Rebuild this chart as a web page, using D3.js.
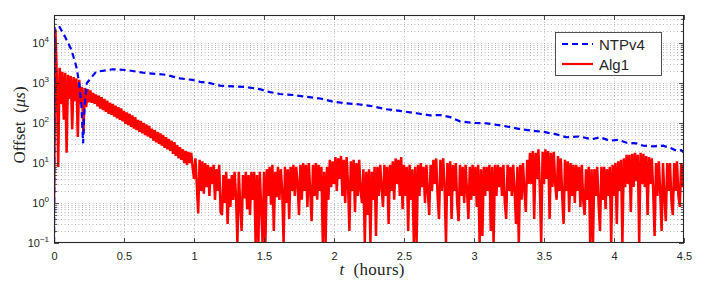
<!DOCTYPE html>
<html><head><meta charset="utf-8">
<script src="https://cdn.jsdelivr.net/npm/d3@7/dist/d3.min.js"></script>
<style>
body{margin:0;background:#fff;}
svg text{font-family:"Liberation Sans",Arial,Helvetica,sans-serif;fill:#262626;}
</style>
</head><body>
<svg id="chart" width="706" height="281"></svg>
<script>
// ---------- data ----------
const seriesNames = ["NTPv4", "Alg1"];
const xTickValues = [0, 0.5, 1, 1.5, 2, 2.5, 3, 3.5, 4, 4.5];
const xTickLabels = ["0", "0.5", "1", "1.5", "2", "2.5", "3", "3.5", "4", "4.5"];
const yTickExponents = [-1, 0, 1, 2, 3, 4];

// NTPv4 offset (µs) vs time (hours)
const ntpTimes = [
  0, 0.004, 0.04, 0.08, 0.125, 0.16, 0.178, 0.195, 0.208, 0.218,
  0.235, 0.3, 0.42, 0.52, 0.64, 0.8, 0.9, 0.99, 1.043, 1.114,
  1.186, 1.28, 1.376, 1.47, 1.543, 1.614, 1.71, 1.805, 1.9, 1.995,
  2.09, 2.186, 2.28, 2.376, 2.47, 2.59, 2.686, 2.757, 2.83, 2.9,
  2.995, 3.09, 3.21, 3.33, 3.42, 3.495, 3.59, 3.66, 3.757, 3.84,
  3.9, 3.97, 4.03, 4.09, 4.16, 4.21, 4.28, 4.35, 4.4, 4.45,
  4.48, 4.5
];
const ntpValues = [
  0.01, 25000, 25000, 14000, 6700, 2500, 1100, 300, 31, 250,
  1000, 1900, 2200, 2100, 1800, 1600, 1300, 1190, 1070, 990,
  860, 820, 790, 700, 590, 530, 500, 450, 410, 340,
  310, 290, 260, 220, 200, 175, 155, 158, 140, 110,
  100, 98, 85, 70, 64, 60, 52, 44, 46, 39,
  44, 36, 38, 32, 31, 27, 26, 27, 24, 20,
  21, 18
];

// Alg1 offset (µs), sampled every 0.01 h from t = 0 to 4.5 h
const alg1Step = 0.01;
const alg1Values = [
  1, 22000, 1500, 8, 2400, 300, 1900, 120, 1800, 18,
  1600, 400, 1500, 70, 1400, 350, 1300, 45, 1200, 300,
  800, 56, 750, 250, 700, 330, 650, 320, 560, 300,
  520, 260, 480, 230, 440, 210, 400, 190, 360, 170,
  320, 160, 300, 145, 270, 130, 250, 120, 230, 110,
  200, 95, 185, 88, 170, 80, 155, 72, 140, 66,
  120, 60, 112, 55, 100, 50, 92, 46, 84, 42,
  72, 36, 66, 33, 60, 30, 55, 27, 50, 24,
  44, 22, 40, 20, 36, 17, 33, 15, 28, 13,
  25, 12, 22, 10, 20, 9, 19, 10, 18, 8,
  4, 13, 3, 0.55, 12, 2, 11, 1.7, 10, 2.5,
  9, 1.5, 8, 3, 9, 1.2, 7, 2, 9, 0.6,
  0.5, 5, 1, 6, 0.3, 4, 0.8, 5, 1.2, 6,
  1.5, 0.1, 6, 0.9, 0.2, 5, 1.3, 6, 0.7, 5,
  0.5, 6, 1.2, 6, 0.1, 5, 0.1, 6, 0.8, 0.1,
  6, 0.1, 7, 1.5, 8, 0.9, 9, 0.2, 6, 1.4,
  8, 1.2, 7, 2, 0.1, 8, 1, 7, 0.4, 8,
  2, 9, 1.5, 8, 3, 0.5, 9, 1.2, 10, 2,
  9, 0.8, 10, 2, 0.35, 9, 1.5, 10, 1.2, 9,
  2, 8, 0.1, 6, 0.1, 8, 1.2, 12, 2.5, 11,
  3, 14, 2, 13, 4, 15, 1.5, 12, 1, 14,
  3, 0.2, 11, 2, 12, 0.6, 10, 1.5, 12, 2,
  1, 7, 0.1, 6, 0.5, 7, 0.1, 6, 1.2, 8,
  0.15, 8, 1.5, 9, 2.5, 0.8, 9, 1.5, 8, 0.3,
  9, 2, 11, 1.2, 13, 3, 12, 1.5, 14, 0.7,
  9, 1.5, 8, 0.2, 9, 1.2, 7, 0.1, 8, 0.1,
  9, 1.5, 10, 2.5, 8, 1, 9, 2, 0.5, 9,
  2, 12, 3, 13, 1.5, 0.4, 12, 2, 13, 2.5,
  0.1, 10, 1.5, 11, 0.4, 9, 2, 10, 1, 0.35,
  9, 1.5, 8, 1, 9, 2, 0.4, 8, 1.2, 9,
  1.5, 8, 0.8, 9, 0.1, 7, 0.15, 8, 1.5, 8,
  2, 9, 0.2, 8, 0.1, 9, 1.5, 9, 2.5, 8,
  1.5, 9, 1, 0.4, 9, 2, 8, 1.5, 9, 2,
  0.3, 8, 0.1, 9, 1.2, 10, 2, 0.6, 12, 3,
  18, 3, 20, 0.4, 18, 4, 22, 2.5, 0.1, 19,
  3, 22, 4, 20, 0.4, 18, 2.5, 19, 3, 1.2,
  15, 2, 13, 1.5, 0.3, 12, 2, 11, 0.6, 10,
  1.5, 9, 1, 9, 2, 8, 0.8, 9, 1.2, 0.5,
  7, 1.2, 8, 0.1, 7, 0.1, 7, 1.5, 8, 1,
  0.2, 8, 1.2, 8, 0.7, 7, 1.5, 8, 0.1, 9,
  1.5, 10, 0.3, 11, 2, 12, 0.1, 13, 2.5, 16,
  3, 16, 0.6, 17, 2.5, 18, 3.5, 16, 0.1, 18,
  3, 17, 2.5, 15, 0.5, 14, 3, 13, 2, 0.15,
  10, 1.5, 11, 2, 0.2, 10, 1.5, 0.35, 10, 2,
  10, 1.2, 0.5, 10, 2, 11, 1.5, 0.8, 10, 2.5,
  9
];

// ---------- layout ----------
const plot = {left: 54, right: 684, top: 15, bottom: 243};
const xDomain = [0, 4.5];
const yDomain = [0.1, 5e4];
const axisColor = "#262626";

const svg = d3.select("#chart");
const x = d3.scaleLinear().domain(xDomain).range([plot.left, plot.right]);
const y = d3.scaleLog().domain(yDomain).range([plot.bottom, plot.top]);

// minor + major log ticks
const yAllTicks = [];
for (let e = -1; e <= 4; e++) {
  for (let m = 1; m <= 9; m++) {
    const v = m * Math.pow(10, e);
    if (v >= yDomain[0] && v <= yDomain[1] * 1.0001) yAllTicks.push(v);
  }
}
const yMajor = yTickExponents.map(e => Math.pow(10, e));

// ---------- grid ----------
const grid = svg.append("g").attr("stroke", "#9a9a9a").attr("stroke-width", 0.7)
  .attr("stroke-dasharray", "1,2.5").attr("fill", "none");
grid.selectAll("line.gx").data(xTickValues.filter(v => v > xDomain[0] && v < xDomain[1]))
  .join("line").attr("class", "gx")
  .attr("x1", d => x(d) + 0.5).attr("x2", d => x(d) + 0.5)
  .attr("y1", plot.top).attr("y2", plot.bottom);
grid.selectAll("line.gy").data(yAllTicks.filter(v => v > yDomain[0] && v < yDomain[1]))
  .join("line").attr("class", "gy")
  .attr("x1", plot.left).attr("x2", plot.right)
  .attr("y1", d => Math.round(y(d)) + 0.5).attr("y2", d => Math.round(y(d)) + 0.5);

// ---------- lines ----------
svg.append("clipPath").attr("id", "clip").append("rect")
  .attr("x", plot.left).attr("y", plot.top)
  .attr("width", plot.right - plot.left).attr("height", plot.bottom - plot.top);

const alg1Data = alg1Values.map((v, i) => ({t: i * alg1Step, v}));
const ntpData = ntpTimes.map((t, i) => ({t, v: ntpValues[i]}));
const line = d3.line().x(d => x(d.t)).y(d => y(d.v));

const lines = svg.append("g").attr("clip-path", "url(#clip)");
lines.append("path").datum(alg1Data).attr("d", line)
  .attr("fill", "none").attr("stroke", "#ff0000").attr("stroke-width", 2.5)
  .attr("stroke-linejoin", "miter").attr("stroke-miterlimit", 2);
lines.append("path").datum(ntpData).attr("d", line)
  .attr("fill", "none").attr("stroke", "#0000ff").attr("stroke-width", 2.2)
  .attr("stroke-dasharray", "6,4");

// ---------- axes ----------
const gx = svg.append("g").attr("transform", `translate(0,${plot.bottom})`)
  .call(d3.axisBottom(x).tickValues(xTickValues).tickFormat((d, i) => xTickLabels[i])
    .tickSizeInner(-5).tickSizeOuter(0).tickPadding(9));
const gxTop = svg.append("g").attr("transform", `translate(0,${plot.top})`)
  .call(d3.axisTop(x).tickValues(xTickValues).tickFormat("")
    .tickSizeInner(-5).tickSizeOuter(0));

const gy = svg.append("g").attr("transform", `translate(${plot.left},0)`)
  .call(d3.axisLeft(y).tickValues(yAllTicks).tickFormat(() => "")
    .tickSize(-3).tickSizeOuter(0));
const gyR = svg.append("g").attr("transform", `translate(${plot.right},0)`)
  .call(d3.axisRight(y).tickValues(yAllTicks).tickFormat(() => "")
    .tickSize(-3).tickSizeOuter(0));
[gy, gyR].forEach(g => g.selectAll(".tick line")
  .attr("x2", function(d) {
    const big = yMajor.some(m => Math.abs(m - d) < 1e-9 * m);
    const cur = +d3.select(this).attr("x2");
    return big ? Math.sign(cur) * 5 : cur;
  }));

[gx, gxTop, gy, gyR].forEach(g => {
  g.select(".domain").remove();
  g.selectAll(".tick line").attr("stroke", axisColor).attr("stroke-width", 0.8);
  g.selectAll("text").attr("font-size", 11).attr("fill", axisColor)
    .attr("font-family", "'Liberation Sans', Arial, sans-serif");
});

// y tick labels: 10^e
const yl = svg.append("g").attr("font-size", 11).attr("fill", axisColor);
yTickExponents.forEach(e => {
  const t = yl.append("text").attr("x", plot.left - 5).attr("y", y(Math.pow(10, e)) + 4)
    .attr("text-anchor", "end");
  t.append("tspan").text("10");
  t.append("tspan").attr("font-size", 8).attr("dy", -5)
    .text(e < 0 ? "\u2212" + Math.abs(e) : String(e));
});

// frame
svg.append("rect").attr("x", plot.left + 0.5).attr("y", plot.top + 0.5)
  .attr("width", plot.right - plot.left - 1).attr("height", plot.bottom - plot.top - 1)
  .attr("fill", "none").attr("stroke", axisColor).attr("stroke-width", 1.1);

// ---------- axis titles ----------
const serif = "'Liberation Serif','DejaVu Serif',serif";
const xt = svg.append("text").attr("x", (plot.left + plot.right) / 2 + 3).attr("y", 275)
  .attr("text-anchor", "middle").attr("font-size", 17).style("font-family", serif)
  .attr("textLength", 65).attr("lengthAdjust", "spacing");
xt.append("tspan").attr("font-style", "italic").text("t");
xt.append("tspan").text("\u2002(hours)");

const yt = svg.append("text")
  .attr("transform", "translate(25,125) rotate(-90)")
  .attr("text-anchor", "middle").attr("font-size", 17).style("font-family", serif);
yt.append("tspan").text("Offset\u2002(");
yt.append("tspan").attr("font-style", "italic").text("\u03bcs");
yt.append("tspan").text(")");

// ---------- legend ----------
const lg = svg.append("g");
lg.append("rect").attr("x", 555.5).attr("y", 32.5).attr("width", 106).attr("height", 43)
  .attr("fill", "#fff").attr("stroke", axisColor).attr("stroke-width", 0.8);
const legendItems = [
  {name: seriesNames[0], color: "#0000ff", dash: "6,4", yy: 44},
  {name: seriesNames[1], color: "#ff0000", dash: null, yy: 64}
];
legendItems.forEach(it => {
  lg.append("line").attr("x1", 562).attr("x2", 593).attr("y1", it.yy).attr("y2", it.yy)
    .attr("stroke", it.color).attr("stroke-width", 2.2)
    .attr("stroke-dasharray", it.dash);
  lg.append("text").attr("x", 599).attr("y", it.yy + 6).attr("font-size", 15)
    .attr("fill", "#000").text(it.name);
});
</script>
</body></html>
